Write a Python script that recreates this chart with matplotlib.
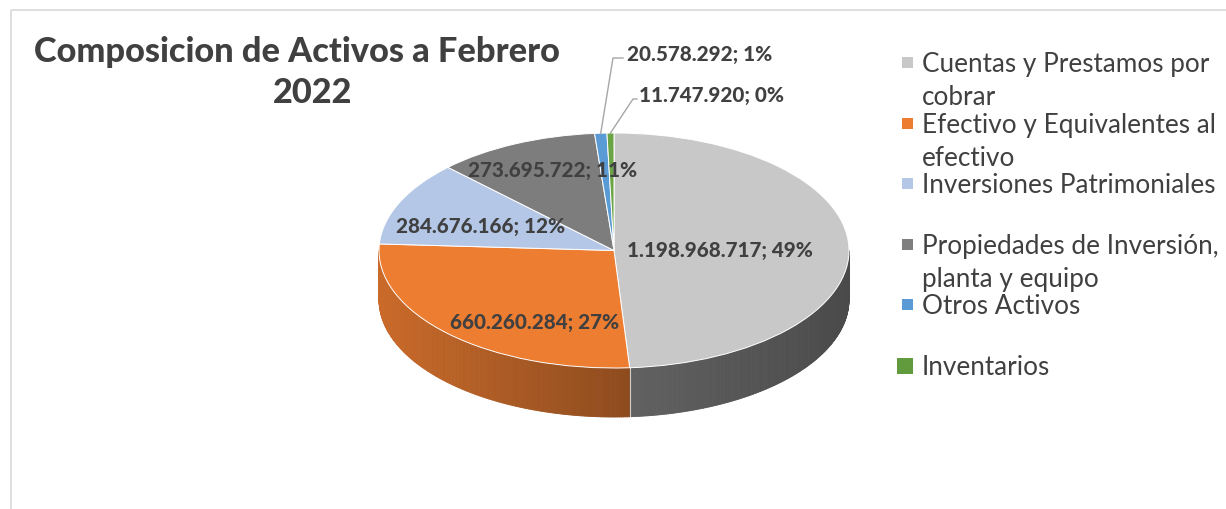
import matplotlib
matplotlib.use("Agg")
import matplotlib.pyplot as plt
import numpy as np
from matplotlib.patches import Rectangle
from matplotlib.collections import PolyCollection
from matplotlib.colors import to_rgb

# ---------------- data ----------------
title = "Composicion de Activos a Febrero\n2022"
categories = [
    "Cuentas y Prestamos por\ncobrar",
    "Efectivo y Equivalentes al\nefectivo",
    "Inversiones Patrimoniales",
    "Propiedades de Inversión,\nplanta y equipo",
    "Otros Activos",
    "Inventarios",
]
values = [1198968717, 660260284, 284676166, 273695722, 20578292, 11747920]

# ---------------- style ----------------
top_colors = ["#C8C8C8", "#ED7D31", "#B4C7E7", "#7D7D7D", "#5B9BD5", "#6AA444"]
legend_colors = ["#C8C8C8", "#ED7D31", "#B4C7E7", "#7F7F7F", "#5B9BD5", "#619B3D"]
# side shading factor = a + b*x  (x = horizontal position on the ellipse, -1..1)
side_shade = [(0.49, -0.12), (0.61, -0.24), (0.6, -0.2), (0.6, -0.2), (0.6, -0.2), (0.6, -0.2)]
TXT = "#404040"
FONT = ["Lato", "DejaVu Sans"]
BOLD = 900

W, H = 1226, 509
fig = plt.figure(figsize=(W / 100, H / 100), dpi=100)

# ---------------- pie geometry (pixels) ----------------
cx, cy, ra, rb, depth = 614, 250.5, 235, 117.5, 49
D = depth / rb
m = 1.1
left = cx - m * ra
top = cy - m * rb
wpx = 2 * m * ra
hpx = (2 * m + D) * rb
ax = fig.add_axes([left / W, (H - top - hpx) / H, wpx / W, hpx / H])
ax.set_zorder(1)

ax0 = fig.add_axes([0, 0, 1, 1])
ax0.set_zorder(2)
ax0.patch.set_visible(False)
ax0.set_xlim(0, W)
ax0.set_ylim(H, 0)
ax0.axis("off")
ax0.add_patch(Rectangle((11, 10), W + 50, H + 50, fill=False, ec="#D9D9D9", lw=1.2))

total = float(sum(values))
fracs = [v / total for v in values]
bounds = np.concatenate([[0], np.cumsum(fracs)]) * 360.0  # clockwise from top

# side walls
for i, (t1, t2) in enumerate(zip(bounds[:-1], bounds[1:])):
    s1, s2 = max(t1, 90), min(t2, 270)
    if s2 <= s1:
        continue
    n = max(2, int((s2 - s1) / 0.5))
    ts = np.linspace(s1, s2, n + 1)
    polys, cols = [], []
    base = np.array(to_rgb(top_colors[i]))
    a, b = side_shade[i]
    for ta, tb in zip(ts[:-1], ts[1:]):
        pa, pb = np.radians(90 - ta), np.radians(90 - tb)
        xa, ya, xb, yb = np.cos(pa), np.sin(pa), np.cos(pb), np.sin(pb)
        polys.append([(xa, ya), (xb, yb), (xb, yb - D), (xa, ya - D)])
        xm = (xa + xb) / 2
        cols.append(np.clip(base * (a + b * xm), 0, 1))
    pc = PolyCollection(polys, facecolors=cols, edgecolors=cols, linewidths=0.6, zorder=1)
    ax.add_collection(pc)
# boundary highlight lines on the side
for t in bounds[1:-1]:
    if 90 < t < 270:
        p = np.radians(90 - t)
        ax.plot([np.cos(p), np.cos(p)], [np.sin(p), np.sin(p) - D], color="white", lw=0.8, alpha=0.7, zorder=1.5)

wedges, _ = ax.pie(values, colors=top_colors, startangle=90, counterclock=False, radius=1,
                   wedgeprops=dict(edgecolor="white", linewidth=0.7, zorder=2))
ax.set_aspect("auto")
ax.set_xlim(-m, m)
ax.set_ylim(-m - D, m)
ax.axis("off")

renderer = fig.canvas.get_renderer()


def fit(t, width):
    bb = t.get_window_extent(renderer)
    t.set_fontsize(t.get_fontsize() * width / bb.width)


# ---------------- title ----------------
tl = title.split("\n")
t1 = ax0.text(296.5, 62, tl[0], ha="center", va="baseline", fontsize=20, fontweight=BOLD, color=TXT, family=FONT)
fit(t1, 527)
ax0.text(313, 103, tl[1], ha="center", va="baseline", fontsize=t1.get_fontsize(), fontweight=BOLD, color=TXT, family=FONT)

# ---------------- data labels ----------------
def fmt(v):
    return f"{v:,}".replace(",", ".") + f"; {round(100 * v / total)}%"

labels = [fmt(v) for v in values]
lab_pos = [(720, 250, "center"), (535, 323, "center"), (481, 227, "center"), (553, 170, "center"),
           (627, 54, "left"), (639, 95, "left")]
ref = ax0.text(0, 0, labels[0], fontsize=14, fontweight=BOLD, family=FONT)
fit(ref, 187)
lsize = ref.get_fontsize()
ref.remove()
for lab, (x, y, ha) in zip(labels, lab_pos):
    ax0.text(x, y, lab, ha=ha, va="center", fontsize=lsize, fontweight=BOLD, color=TXT, family=FONT, zorder=5)

# leader lines for the two thin slices
leader_ends = {4: [(613, 58), (623, 58)], 5: [(633, 99), (637, 99)]}
for i, pts in leader_ends.items():
    tm = (bounds[i] + bounds[i + 1]) / 2
    p = np.radians(90 - tm)
    disp = ax.transData.transform((np.cos(p), np.sin(p)))
    sx, sy = ax0.transData.inverted().transform(disp)
    xs = [sx] + [q[0] for q in pts]
    ys = [sy] + [q[1] for q in pts]
    ax0.plot(xs, ys, color="#A6A6A6", lw=1.0, zorder=4)

# ---------------- legend ----------------
ref = ax0.text(0, 0, categories[0].split("\n")[0], fontsize=16, family=FONT)
fit(ref, 288)
gsize = ref.get_fontsize()
ref.remove()
for i, (cat, col) in enumerate(zip(categories, legend_colors)):
    base_y = 72 + 60.6 * i
    for j, line in enumerate(cat.split("\n")):
        ax0.text(922, base_y + 33 * j, line, ha="left", va="baseline", fontsize=gsize, color=TXT, family=FONT)
    s = 16 if i == len(categories) - 1 else 11
    mcy = base_y - 9.5
    ax0.add_patch(Rectangle((913 - s, mcy - s / 2), s, s, color=col, lw=0))

fig.savefig("out.png", dpi=100)
